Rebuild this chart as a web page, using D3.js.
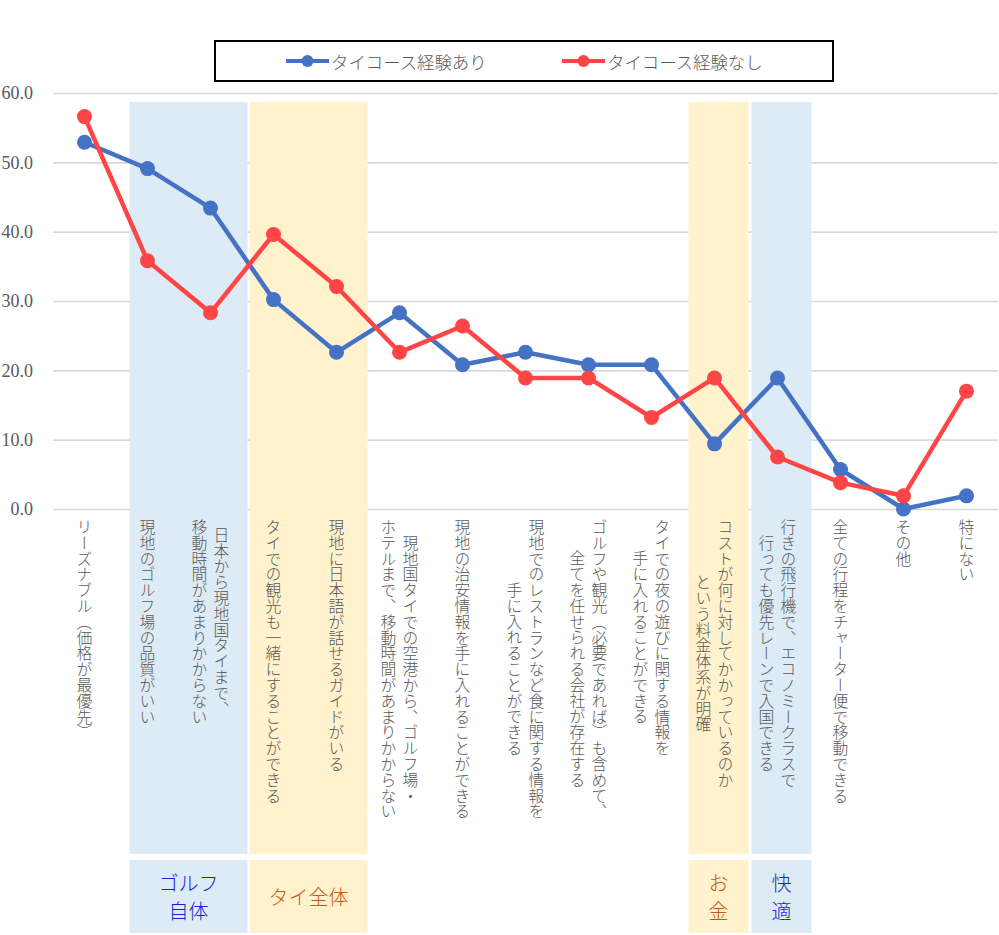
<!DOCTYPE html>
<html><head><meta charset="utf-8">
<script src="https://cdn.jsdelivr.net/npm/d3@7/dist/d3.min.js"></script>
<style>
body{margin:0;background:#fff}svg{display:block}
.yax text{font-family:"Liberation Serif","Times New Roman",serif !important;font-size:18px !important}
</style>
</head><body>
<svg id="chart" width="999" height="935"></svg>
<script>
// ---- data ----
const categories = [
  "リーズナブル（価格が最優先）",
  "現地のゴルフ場の品質がいい",
  "日本から現地国タイまで、\n移動時間があまりかからない",
  "タイでの観光も一緒にすることができる",
  "現地に日本語が話せるガイドがいる",
  "現地国タイでの空港から、ゴルフ場・\nホテルまで、移動時間があまりかからない",
  "現地の治安情報を手に入れることができる",
  "現地でのレストランなど食に関する情報を\n手に入れることができる",
  "ゴルフや観光（必要であれば）も含めて、\n全てを任せられる会社が存在する",
  "タイでの夜の遊びに関する情報を\n手に入れることができる",
  "コストが何に対してかかっているのか\nという料金体系が明確",
  "行きの飛行機で、エコノミークラスで\n行っても優先レーンで入国できる",
  "全ての行程をチャーター便で移動できる",
  "その他",
  "特にない"
];
const seriesNames = ["タイコース経験あり", "タイコース経験なし"];
const withExperience    = [52.9, 49.1, 43.4, 30.2, 22.6, 28.3, 20.8, 22.6, 20.8, 20.8, 9.4, 18.9, 5.7, 0.0, 1.9];
const withoutExperience = [56.6, 35.8, 28.3, 39.6, 32.1, 22.6, 26.4, 18.9, 18.9, 13.2, 18.9, 7.5, 3.8, 1.9, 17.0];
const yTicks = [0, 10, 20, 30, 40, 50, 60];
const groupNames = ["ゴルフ\n自体", "タイ全体", "お\n金", "快\n適"];
const groupFirst = [1, 3, 10, 11];
const groupLast  = [2, 4, 10, 11];
const groupKind  = ["blue", "yellow", "yellow", "blue"];

// ---- styles / layout ----
const COLORS = ["#4472C4", "#FF4545"];
const FILL = {blue: "#DDEBF7", yellow: "#FFF2CC"};
const TEXTC = {blue: "#1c1cdc", yellow: "#C55A11"};
const GRAY = "#595959";
const JP = "'Noto Sans CJK JP', 'Noto Sans', sans-serif";
const insetL = [13.5, 7.5, 5.5, 5.5];
const insetR = [5.5, -0.5, 2.5, 2.5];

const svg = d3.select("#chart");
const x = d3.scaleBand().domain(d3.range(categories.length)).range([53, 998]);
const y = d3.scaleLinear().domain([0, 60]).range([509, 93]);
const cx = i => x(i) + x.bandwidth() / 2;

// gridlines + y labels
const yAxis = d3.axisLeft(y).tickValues(yTicks).tickFormat(d3.format(".1f"))
  .tickSize(-(998 - 53)).tickPadding(20);
const gy = svg.append("g").attr("class", "yax").attr("transform", "translate(53,0)").call(yAxis)
  .attr("font-family", null).attr("font-size", null);
gy.select(".domain").remove();
gy.selectAll(".tick line").attr("stroke", "#d9d9d9").attr("stroke-width", 1.6);
gy.selectAll(".tick text").attr("fill", GRAY);

// group shading
const gx0 = i => x(groupFirst[i]) + insetL[i];
const gx1 = i => x(groupLast[i]) + x.bandwidth() + insetR[i];
const groups = svg.append("g");
groupNames.forEach((name, i) => {
  groups.append("rect").attr("x", gx0(i)).attr("width", gx1(i) - gx0(i))
    .attr("y", 102).attr("height", 854 - 102).attr("fill", FILL[groupKind[i]]);
  groups.append("rect").attr("x", gx0(i)).attr("width", gx1(i) - gx0(i))
    .attr("y", 860).attr("height", 933 - 860).attr("fill", FILL[groupKind[i]]);
  const lines = name.split("\n");
  const lh = 28, mid = (860 + 933) / 2;
  lines.forEach((ln, j) => {
    groups.append("text").attr("x", (gx0(i) + gx1(i)) / 2)
      .attr("y", mid + (j - (lines.length - 1) / 2) * lh)
      .attr("text-anchor", "middle").attr("dominant-baseline", "central")
      .attr("fill", TEXTC[groupKind[i]])
      .style("font-family", JP).style("font-weight", 300).style("font-size", "20px").text(ln);
  });
});

// category labels (vertical)
const labG = svg.append("g");
categories.forEach((c, i) => {
  const lines = c.split("\n");
  const lh = 22;
  const nodes = lines.map((ln, j) => labG.append("text")
    .attr("x", cx(i) + ((lines.length - 1) / 2 - j) * lh)
    .attr("y", 519)
    .style("writing-mode", "vertical-rl")
    .attr("fill", GRAY)
    .style("font-family", JP).style("font-weight", 300).style("font-size", "15.8px").text(ln));
  const lens = nodes.map(n => n.node().getComputedTextLength());
  const maxL = d3.max(lens);
  nodes.forEach((n, j) => n.attr("y", 519 + (maxL - lens[j]) / 2));
});

// series
const series = [withExperience, withoutExperience];
const line = d3.line().x((d, i) => cx(i)).y(d => y(d));
series.forEach((vals, s) => {
  svg.append("path").datum(vals).attr("d", line).attr("fill", "none")
    .attr("stroke", COLORS[s]).attr("stroke-width", 4.5).attr("stroke-linejoin", "round");
  svg.append("g").selectAll("circle").data(vals).join("circle")
    .attr("cx", (d, i) => cx(i)).attr("cy", d => y(d)).attr("r", 7.5).attr("fill", COLORS[s]);
});

// legend
const lg = svg.append("g");
lg.append("rect").attr("x", 215).attr("y", 41).attr("width", 618).attr("height", 40)
  .attr("fill", "#fff").attr("stroke", "#000").attr("stroke-width", 2);
const legX = [286, 562];
seriesNames.forEach((n, s) => {
  const g = lg.append("g").attr("transform", `translate(${legX[s]},61)`);
  g.append("line").attr("x1", 0).attr("x2", 43).attr("stroke", COLORS[s]).attr("stroke-width", 4);
  g.append("circle").attr("cx", 21.5).attr("r", 6).attr("fill", COLORS[s]);
  g.append("text").attr("x", 45).attr("dominant-baseline", "central").attr("fill", GRAY)
    .style("font-family", JP).style("font-weight", 300).style("font-size", "17.4px").text(n);
});
</script>
</body></html>
